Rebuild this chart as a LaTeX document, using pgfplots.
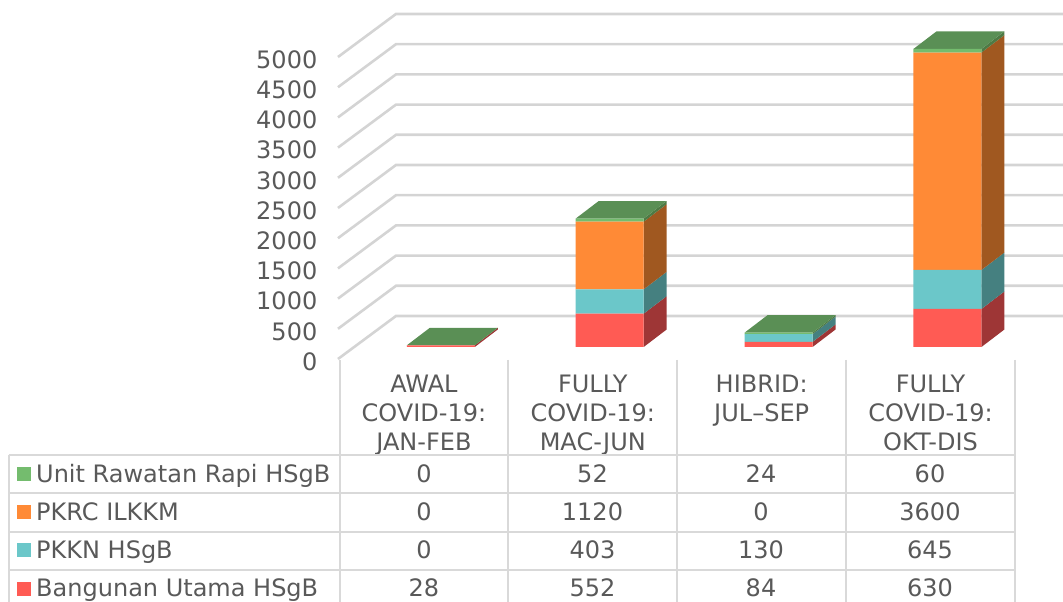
\documentclass[border=0pt]{standalone}
\usepackage{pgfplots}
\pgfplotsset{compat=1.18}
\usepackage{fontspec}
\setmainfont{DejaVu Sans}
\definecolor{txt}{HTML}{595959}
\definecolor{gridc}{HTML}{D4D4D4}
\definecolor{tbl}{HTML}{D9D9D9}
\definecolor{cred}{HTML}{FF5B54}
\definecolor{cteal}{HTML}{6BC7C9}
\definecolor{corange}{HTML}{FF8A36}
\definecolor{cgreen}{HTML}{74BC6E}
\definecolor{dred}{HTML}{9E3636}
\definecolor{dteal}{HTML}{458080}
\definecolor{dorange}{HTML}{A05820}
\definecolor{dgreen}{HTML}{4E7A45}
\definecolor{tgreen}{HTML}{5A8F55}
\pgfplotstableread{
x red teal orange green
0 28 0 0 0
1 552 403 1120 52
2 84 130 0 24
3 630 645 3600 60
}\datatable
\pgfplotsset{
  geo/.style={scale only axis,width=675.5pt,height=302pt,xmin=-0.5,xmax=3.5,ymin=0,ymax=5000,clip=false},
  gl/.style={gridc,line width=2.6pt,forget plot},
}
\newcommand{\ft}{\fontsize{24}{29.3}\selectfont}
\begin{document}
\begin{tikzpicture}
\path[use as bounding box,clip] (0,0) rectangle (1063pt,602pt);
% back walls and tick labels (front plane at px y=359)
\begin{axis}[geo,at={(339.5pt,243pt)},anchor=south west,
  axis line style={draw=none},tick style={draw=none},major tick length=0pt,
  xtick={0,1,2,3},
  xticklabels={AWAL\\COVID-19:\\JAN-FEB,FULLY\\COVID-19:\\MAC-JUN,HIBRID:\\JUL–SEP,FULLY\\COVID-19:\\OKT-DIS},
  xticklabel style={align=center,anchor=north,inner sep=0pt,yshift=-15.5pt,font=\ft,text=txt},
  ytick={0,500,...,5000},
  yticklabel style={anchor=east,inner sep=0pt,xshift=-22pt,yshift=-2.5pt,font=\ft,text=txt},
  /pgf/number format/assume math mode=true,
  /pgf/number format/1000 sep={},
]
\addplot[gl] coordinates {(-0.509,0) (-0.1655,712) (3.784,712)};
\addplot[gl] coordinates {(-0.509,500) (-0.1655,1212) (3.784,1212)};
\addplot[gl] coordinates {(-0.509,1000) (-0.1655,1712) (3.784,1712)};
\addplot[gl] coordinates {(-0.509,1500) (-0.1655,2212) (3.784,2212)};
\addplot[gl] coordinates {(-0.509,2000) (-0.1655,2712) (3.784,2712)};
\addplot[gl] coordinates {(-0.509,2500) (-0.1655,3212) (3.784,3212)};
\addplot[gl] coordinates {(-0.509,3000) (-0.1655,3712) (3.784,3712)};
\addplot[gl] coordinates {(-0.509,3500) (-0.1655,4212) (3.784,4212)};
\addplot[gl] coordinates {(-0.509,4000) (-0.1655,4712) (3.784,4712)};
\addplot[gl] coordinates {(-0.509,4500) (-0.1655,5212) (3.784,5212)};
\addplot[gl] coordinates {(-0.509,5000) (-0.1655,5712) (3.784,5712)};
\end{axis}
% side and top faces
\begin{axis}[geo,hide axis,at={(356.4pt,255pt)},anchor=south west]
\addplot[fill=dred,draw=none,forget plot] coordinates {(0.2012,0) (0.3373,290) (0.3373,318) (0.2012,28)} -- cycle;
\addplot[fill=tgreen,draw=none,forget plot] coordinates {(-0.2012,28) (0.2012,28) (0.3373,318) (-0.0651,318)} -- cycle;
\addplot[fill=dred,draw=none,forget plot] coordinates {(1.2012,0) (1.3373,290) (1.3373,842) (1.2012,552)} -- cycle;
\addplot[fill=dteal,draw=none,forget plot] coordinates {(1.2012,552) (1.3373,842) (1.3373,1245) (1.2012,955)} -- cycle;
\addplot[fill=dorange,draw=none,forget plot] coordinates {(1.2012,955) (1.3373,1245) (1.3373,2365) (1.2012,2075)} -- cycle;
\addplot[fill=dgreen,draw=none,forget plot] coordinates {(1.2012,2075) (1.3373,2365) (1.3373,2417) (1.2012,2127)} -- cycle;
\addplot[fill=tgreen,draw=none,forget plot] coordinates {(0.7988,2127) (1.2012,2127) (1.3373,2417) (0.9349,2417)} -- cycle;
\addplot[fill=dred,draw=none,forget plot] coordinates {(2.2012,0) (2.3373,290) (2.3373,374) (2.2012,84)} -- cycle;
\addplot[fill=dteal,draw=none,forget plot] coordinates {(2.2012,84) (2.3373,374) (2.3373,504) (2.2012,214)} -- cycle;
\addplot[fill=dgreen,draw=none,forget plot] coordinates {(2.2012,214) (2.3373,504) (2.3373,528) (2.2012,238)} -- cycle;
\addplot[fill=tgreen,draw=none,forget plot] coordinates {(1.7988,238) (2.2012,238) (2.3373,528) (1.9349,528)} -- cycle;
\addplot[fill=dred,draw=none,forget plot] coordinates {(3.2012,0) (3.3373,290) (3.3373,920) (3.2012,630)} -- cycle;
\addplot[fill=dteal,draw=none,forget plot] coordinates {(3.2012,630) (3.3373,920) (3.3373,1565) (3.2012,1275)} -- cycle;
\addplot[fill=dorange,draw=none,forget plot] coordinates {(3.2012,1275) (3.3373,1565) (3.3373,5165) (3.2012,4875)} -- cycle;
\addplot[fill=dgreen,draw=none,forget plot] coordinates {(3.2012,4875) (3.3373,5165) (3.3373,5225) (3.2012,4935)} -- cycle;
\addplot[fill=tgreen,draw=none,forget plot] coordinates {(2.7988,4935) (3.2012,4935) (3.3373,5225) (2.9349,5225)} -- cycle;
\end{axis}
% front faces
\begin{axis}[geo,hide axis,at={(356.4pt,255pt)},anchor=south west,ybar stacked,bar width=68pt]
\addplot[fill=cred,draw=none] table[x=x,y=red] {\datatable};
\addplot[fill=cteal,draw=none] table[x=x,y=teal] {\datatable};
\addplot[fill=corange,draw=none] table[x=x,y=orange] {\datatable};
\addplot[fill=cgreen,draw=none] table[x=x,y=green] {\datatable};
\end{axis}
% data table, in pixel coordinates (y downward)
\begin{scope}[shift={(0,602pt)},x=1pt,y=-1pt]
\foreach \yy in {455,493.5,531.7,570}
  \draw[tbl,line width=2pt] (8.5,\yy) -- (1015,\yy);
\draw[tbl,line width=2pt] (8.5,455) -- (8.5,602);
\foreach \xx in {339.5,508,677,846,1014.5}
  \draw[tbl,line width=2pt] (\xx,360) -- (\xx,602);
\foreach \yy/\cc/\nn in {474.5/cgreen/Unit Rawatan Rapi HSgB,512.5/corange/PKRC ILKKM,550.5/cteal/PKKN HSgB,589/cred/Bangunan Utama HSgB}{
  \fill[\cc] (17,\yy-7) rectangle (31,\yy+7);
  \node[anchor=base west,inner sep=0pt,text=txt,font=\ft] at (36,\yy+8) {\nn};
}
\foreach \xx/\a/\b/\c/\d in {424/0/0/0/28,592.5/52/1120/403/552,761/24/0/130/84,930/60/3600/645/630}{
  \node[anchor=base,inner sep=0pt,text=txt,font=\ft] at (\xx,483) {\a};
  \node[anchor=base,inner sep=0pt,text=txt,font=\ft] at (\xx,521) {\b};
  \node[anchor=base,inner sep=0pt,text=txt,font=\ft] at (\xx,559) {\c};
  \node[anchor=base,inner sep=0pt,text=txt,font=\ft] at (\xx,597) {\d};
}
\end{scope}
\end{tikzpicture}
\end{document}
